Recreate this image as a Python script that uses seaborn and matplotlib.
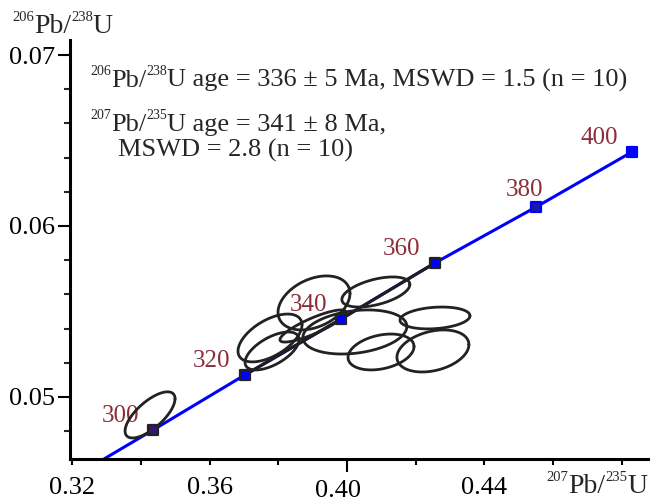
import numpy as np
import matplotlib.pyplot as plt
import matplotlib.transforms as mtransforms
from matplotlib.ticker import FixedLocator, MultipleLocator
import seaborn as sns

sns.set_theme(style="white")
plt.rcParams['font.family'] = ['Liberation Serif', 'DejaVu Serif']

# concordia ages and their ratios
ages = [300, 320, 340, 360, 380, 400]
conc_x = [0.3436, 0.3703, 0.3983, 0.4256, 0.4550, 0.4829]
conc_y = [0.04807, 0.05129, 0.05456, 0.05784, 0.06111, 0.06433]
# where the concordia leaves the bottom axis
conc_start_x = 0.3293
conc_start_y = 0.04637

# error ellipses: centre, half extents and error correlation
ell_x = [0.3427, 0.3904, 0.4084, 0.4256, 0.4023, 0.4099, 0.4250, 0.3776, 0.3782, 0.3901]
ell_y = [0.04895, 0.05550, 0.05614, 0.05462, 0.05380, 0.05263, 0.05269, 0.05345, 0.05269, 0.05415]
ell_sx = [0.00727, 0.01047, 0.00989, 0.01018, 0.01513, 0.00960, 0.01047, 0.00931, 0.00786, 0.00960]
ell_sy = [0.00135, 0.00158, 0.00088, 0.00064, 0.00129, 0.00105, 0.00123, 0.00140, 0.00111, 0.00094]
ell_rho = [0.7, 0.35, 0.5, 0.2, 0.25, 0.3, 0.3, 0.55, 0.6, 0.85]

xticks = [0.32, 0.36, 0.40, 0.44]
xtick_labels = ["0.32", "0.36", "0.40", "0.44"]
yticks = [0.05, 0.06, 0.07]
ytick_labels = ["0.05", "0.06", "0.07"]

# text pieces: (text, superscript?)
ylab = [("206", True), ("Pb/", False), ("238", True), ("U", False)]
xlab = [("207", True), ("Pb/", False), ("235", True), ("U", False)]
line1 = [("206", True), ("Pb/", False), ("238", True),
         ("U age = 336 ± 5 Ma, MSWD = 1.5 (n = 10)", False)]
line2 = [("207", True), ("Pb/", False), ("235", True), ("U age = 341 ± 8 Ma,", False)]
line3 = [("MSWD = 2.8 (n = 10)", False)]

# marker styles
face_cols = ['#35156e', '#0000ff', '#0000ff', '#0000ff', '#1a1aa8', '#0000ff']
edge_cols = ['#222222', '#222222', '#222222', '#222222', '#0000ff', '#0000ff']
label_col = '#8b2e3a'

W, H = 654, 501
fig = plt.figure(figsize=(W / 100, H / 100), dpi=100)
ax = fig.add_axes([70 / W, 42 / H, 578 / W, 419 / H])
renderer = fig.canvas.get_renderer()


def rich(x, y, parts, size, sup_size, rise, align='left'):
    # x, y in pixels from top-left, y is the baseline
    arts = []
    for txt, sup in parts:
        t = fig.text(0, 0, txt, fontsize=sup_size if sup else size, va='baseline')
        arts.append((t, sup))
    total = sum(t.get_window_extent(renderer).width for t, _ in arts)
    if align == 'right':
        x = x - total
    for t, sup in arts:
        yy = y - rise if sup else y
        t.set_position((x / W, 1 - yy / H))
        x += t.get_window_extent(renderer).width


# concordia
sns.lineplot(x=[conc_start_x] + conc_x, y=[conc_start_y] + conc_y, sort=False,
             estimator=None, color='#0000ff', lw=2.2, ax=ax, zorder=2)
sns.lineplot(x=conc_x[1:4], y=conc_y[1:4], sort=False, estimator=None,
             color='#1e1e1e', lw=2.2, ax=ax, zorder=2)

for a, x, y in zip(ages, conc_x, conc_y):
    off = (-8.6, 12.2) if a == 380 else (-23.8, 10.1)
    ax.annotate(str(a), (x, y), xytext=off, textcoords='offset points',
                ha='center', va='center', fontsize=18, color=label_col, zorder=2)

# ellipses
t = np.linspace(0, 2 * np.pi, 240)
for cx, cy, sx, sy, r in zip(ell_x, ell_y, ell_sx, ell_sy, ell_rho):
    ex = cx + sx * np.cos(t)
    ey = cy + sy * (r * np.cos(t) + np.sqrt(1 - r ** 2) * np.sin(t))
    ax.plot(ex, ey, color='#222222', lw=2.0, zorder=3)

ax.scatter(conc_x, conc_y, marker='s', s=50, c=face_cols, edgecolors=edge_cols,
           linewidths=1.6, zorder=4)

ax.set_xlim(0.31941, 0.48758)
ax.set_ylim(0.04637, 0.07088)
ax.set_xlabel('')
ax.set_ylabel('')

ax.xaxis.set_major_locator(FixedLocator(xticks))
ax.set_xticklabels(xtick_labels)
ax.xaxis.set_minor_locator(MultipleLocator(0.02))
ax.yaxis.set_major_locator(FixedLocator(yticks))
ax.set_yticklabels(ytick_labels)
ax.yaxis.set_minor_locator(MultipleLocator(0.002))

ax.tick_params(axis='y', which='major', direction='out', length=8.6, width=1.5,
               pad=2, labelsize=19, colors='black', left=True)
ax.tick_params(axis='y', which='minor', direction='out', length=4.3, width=1.5,
               left=True)
ax.tick_params(axis='x', which='both', direction='out', length=4.3, width=1.5,
               pad=8.5, labelsize=19, colors='black', bottom=True)

for s in ['top', 'right']:
    ax.spines[s].set_visible(False)
for s in ['left', 'bottom']:
    ax.spines[s].set_color('black')
    ax.spines[s].set_linewidth(2.2)

# the 0.40 tick is longer and its label sits lower
t40 = ax.xaxis.get_major_ticks()[2]
t40.tick1line.set_markersize(9.4)
t40.label1.set_transform(t40.label1.get_transform() +
                         mtransforms.ScaledTranslation(-0.09, -0.035, fig.dpi_scale_trans))

rich(12, 33, ylab, 20, 10.5, 12)
rich(647, 493, xlab, 20, 10.5, 12, align='right')

rich(90, 87, line1, 19, 10, 12)
rich(90, 131, line2, 19, 10, 12)
rich(118, 157, line3, 19, 10, 12)

fig.savefig('out.png', dpi=100)
